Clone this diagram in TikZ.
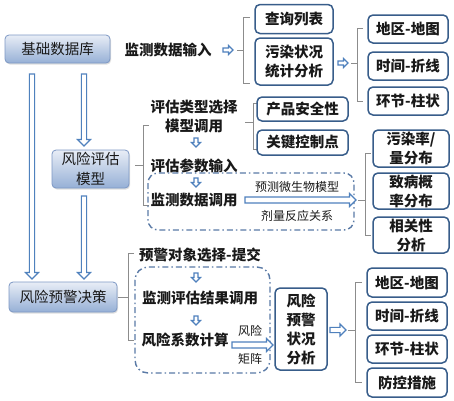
\documentclass[tikz,border=0pt]{standalone}
\usepackage{fontspec}
\setmainfont{Noto Sans CJK SC}
\usetikzlibrary{shadows}
\definecolor{boxborder}{RGB}{56,93,138}
\definecolor{arrowblue}{RGB}{79,129,189}
\definecolor{lefttop}{RGB}{232,237,246}
\definecolor{leftbot}{RGB}{150,176,214}
\definecolor{leftborder}{RGB}{125,152,196}
\definecolor{brkgray}{RGB}{140,140,140}
\definecolor{ddblue}{RGB}{90,122,166}
\definecolor{txt}{RGB}{25,25,25}
\newcommand\mybf{\fontsize{14.5}{19}\selectfont\bfseries}
\newcommand\myrg{\fontsize{14.5}{20}\selectfont}
\newcommand\mysm{\fontsize{12}{14}\selectfont}
\begin{document}
\begin{tikzpicture}[x=1pt,y=-1pt,
  every node/.style={text=txt},
  bx/.style={draw=boxborder, line width=1.5pt, rounded corners=5pt, fill=white, font=\mybf, align=center, inner sep=0pt},
  lbox/.style={draw=leftborder, line width=0.8pt, rounded corners=4pt, top color=lefttop, bottom color=leftbot, font=\myrg, align=center, inner sep=0pt, drop shadow={opacity=0.25, shadow xshift=1pt, shadow yshift=-1.5pt}},
  lbl/.style={font=\mybf, align=center, inner sep=0pt},
  sml/.style={font=\mysm, inner sep=0pt},
  brk/.style={draw=brkgray, line width=0.8pt},
  dd/.style={draw=ddblue, line width=1.4pt, dash pattern=on 6pt off 3pt on 1.5pt off 3pt},
  arrline/.style={draw=arrowblue, fill=white, line width=1.1pt, line join=miter},
  pics/harr/.style args={#1/#2/#3}{code={
    \draw[arrline] (0,-#2) -- (#1-#3,-#2) -- (#1-#3,-#3) -- (#1,0) -- (#1-#3,#3) -- (#1-#3,#2) -- (0,#2) -- cycle;
  }}
]
\useasboundingbox[fill=white] (0,0) rectangle (454,400);

% left column
\node[lbox, minimum width=105pt, minimum height=28pt] (db) at (57.5,49) {基础数据库};
\node[lbox, minimum width=77pt, minimum height=38pt] (model) at (90.5,169) {风险评估\\模型};
\node[lbox, minimum width=108pt, minimum height=30pt] (warn) at (63,297) {风险预警决策};

\pic[rotate=-90] at (32,74) {harr=205/2.6/6.5};
\pic[rotate=-90] at (84,74) {harr=72/2.6/6.5};
\pic[rotate=-90] at (84,196) {harr=83/2.6/6.5};

% section 1
\node[lbl] (in1) at (168,50) {监测数据输入};
\pic at (223,50) {harr=10/2/4.5};
\draw[brk] (250,17) -- (243,17) -- (243,83) -- (250,83);
\draw[brk] (237,50) -- (243,50);
\node[bx, minimum width=78pt, minimum height=29pt] (q1) at (294,19) {查询列表};
\node[bx, minimum width=78pt, minimum height=47pt] (q2) at (294,61.5) {污染状况\\统计分析};
\pic at (338,63) {harr=10/2/4.5};
\draw[brk] (363,28) -- (357,28) -- (357,101) -- (363,101);
\draw[brk] (351,63) -- (357,63);
\node[bx, minimum width=80pt, minimum height=28pt] (r1) at (408,29) {地区-地图};
\node[bx, minimum width=80pt, minimum height=28pt] (r2) at (408,66) {时间-折线};
\node[bx, minimum width=80pt, minimum height=28pt] (r3) at (408,101) {环节-柱状};

% section 2
\node[lbl] (t21) at (194,116.5) {评估类型选择\\模型调用};
\draw[brk] (258,103) -- (253,103) -- (253,149) -- (258,149);
\draw[brk] (245,122) -- (253,122);
\node[bx, minimum width=91pt, minimum height=24pt] (p1) at (302.5,109) {产品安全性};
\node[bx, minimum width=91pt, minimum height=25pt] (p2) at (302.5,142.5) {关键控制点};
\pic[rotate=-90] at (196,138) {harr=9/2/4.5};
\node[lbl] (t22) at (194,166) {评估参数输入};
\draw[brk] (149,125) -- (143,125) -- (143,205) -- (149,205);
\draw[brk] (135,165) -- (143,165);
\draw[dd, rounded corners=10pt] (148,173) rectangle (354,230);
\pic[rotate=-90] at (196,178) {harr=9/2/4.5};
\node[lbl] (t23) at (194,200) {监测数据调用};
\pic at (245,200) {harr=111/3/6.5};
\node[sml] (s1) at (297,187) {预测微生物模型};
\node[sml] (s2) at (297,216) {剂量反应关系};
\draw[brk] (371,153) -- (365,153) -- (365,235) -- (371,235);
\draw[brk] (358,200) -- (365,200);
\node[bx, minimum width=76pt, minimum height=37pt] (d1) at (411,148.5) {污染率/\\量分布};
\node[bx, minimum width=76pt, minimum height=36pt] (d2) at (411,191) {致病概\\率分布};
\node[bx, minimum width=76pt, minimum height=36pt] (d3) at (411,235) {相关性\\分析};

% section 3
\node[lbl] (t31) at (200,255) {预警对象选择-提交};
\draw[brk] (134,253) -- (128,253) -- (128,340) -- (134,340);
\draw[brk] (118,297) -- (128,297);
\draw[dd, rounded corners=13pt] (135,267) rectangle (270,373);
\pic[rotate=-90] at (196,273) {harr=9/2/4.5};
\node[lbl] (t32) at (200,298) {监测评估结果调用};
\pic[rotate=-90] at (196,316) {harr=9/2/4.5};
\node[lbl] (t33) at (185,340) {风险系数计算};
\pic at (232,345) {harr=41/3/6.5};
\node[sml] (s3) at (250,331) {风险};
\node[sml] (s4) at (250,359) {矩阵};
\node[bx, minimum width=52pt, minimum height=82pt] (ana) at (301,329) {风险\\预警\\状况\\分析};
\pic at (330,330) {harr=16/2.6/6};
\draw[brk] (362,282) -- (355,282) -- (355,382) -- (362,382);
\draw[brk] (348,330) -- (355,330);
\node[bx, minimum width=80pt, minimum height=29pt] (w1) at (407,282.5) {地区-地图};
\node[bx, minimum width=80pt, minimum height=28pt] (w2) at (407,316) {时间-折线};
\node[bx, minimum width=80pt, minimum height=28pt] (w3) at (407,349) {环节-柱状};
\node[bx, minimum width=80pt, minimum height=29pt] (w4) at (407,382.5) {防控措施};
\end{tikzpicture}
\end{document}
